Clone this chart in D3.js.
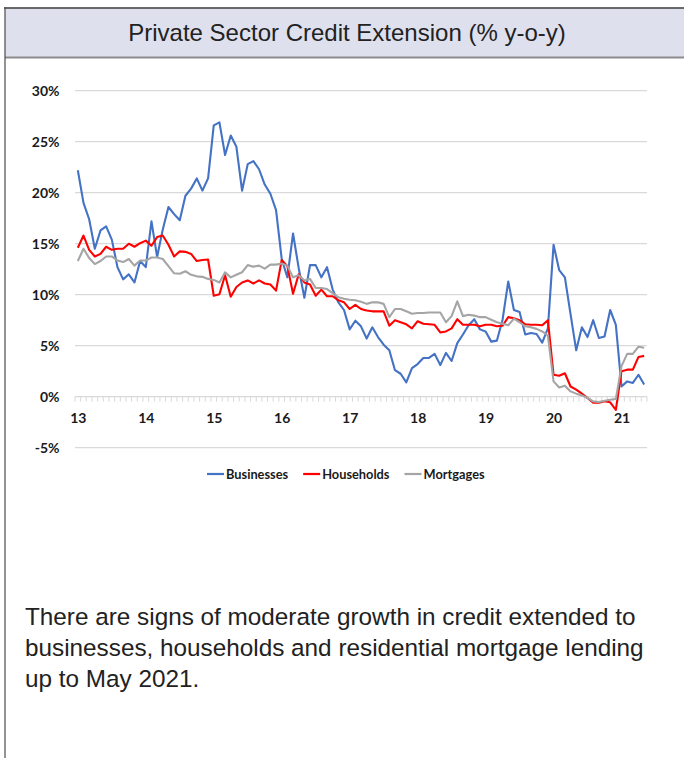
<!DOCTYPE html>
<html>
<head>
<meta charset="utf-8">
<script src="https://cdn.jsdelivr.net/npm/d3@7"></script>
<style>
  html, body { margin: 0; padding: 0; background: #fff; }
  svg { display: block; }
</style>
</head>
<body>
<svg id="chart" width="684" height="758"></svg>
<script>
// Monthly year-on-year growth, Jan 2013 to May 2021
const yearLabels = ["13", "14", "15", "16", "17", "18", "19", "20", "21"];
const yTicks = [-5, 0, 5, 10, 15, 20, 25, 30];

const businesses = [
  22.2, 19.0, 17.4, 14.5, 16.3, 16.7, 15.4, 12.7, 11.5, 12.0, 11.2, 13.3,
  12.7, 17.2, 13.7, 16.4, 18.6, 17.9, 17.3, 19.7, 20.4, 21.4, 20.2, 21.4,
  26.6, 26.9, 23.7, 25.6, 24.5, 20.2, 22.8, 23.1, 22.3, 20.8, 19.9, 18.3,
  13.5, 11.7, 16.0, 12.6, 9.7, 12.9, 12.9, 11.7, 12.7, 10.5, 9.25, 8.5,
  6.6, 7.45, 6.9, 5.7, 6.8, 5.85, 5.1, 4.55, 2.6, 2.25, 1.4, 2.8,
  3.2, 3.8, 3.8, 4.2, 3.1, 4.3, 3.5, 5.25, 6.1, 7.0, 7.6, 6.6,
  6.4, 5.4, 5.5, 7.55, 11.3, 8.5, 8.3, 6.1, 6.25, 6.15, 5.3, 6.7,
  14.9, 12.4, 11.7, 8.1, 4.55, 6.8, 5.85, 7.5, 5.75, 5.9, 8.5, 7.05,
  1.0, 1.5, 1.35, 2.15, 1.2
];

const households = [
  14.6, 15.8, 14.4, 13.75, 14.0, 14.7, 14.4, 14.5, 14.5, 15.0, 14.7, 15.05,
  15.3, 14.8, 15.65, 15.8, 14.9, 13.75, 14.25, 14.2, 14.0, 13.3, 13.4, 13.45,
  9.9, 10.05, 11.9, 9.8, 10.75, 11.2, 11.4, 11.1, 11.4, 11.1, 11.0, 10.4,
  13.4, 12.8, 10.1, 12.0, 11.2, 11.0, 9.9, 10.5, 9.85, 9.85, 9.45, 9.25,
  8.6, 9.0, 8.6, 8.45, 8.37, 8.37, 8.37, 6.96, 7.5, 7.3, 7.1, 6.7,
  7.4, 7.15, 7.1, 7.05, 6.3, 6.4, 6.7, 7.6, 7.05, 7.05, 7.05, 6.9,
  7.05, 7.05, 6.9, 6.96, 7.8, 7.7, 7.5, 7.1, 7.05, 7.05, 7.0, 7.5,
  2.15, 2.05, 2.3, 1.0, 0.7, 0.3, -0.13, -0.6, -0.6, -0.45, -0.55, -1.3,
  2.5, 2.65, 2.65, 3.9, 4.0
];

const mortgages = [
  13.3, 14.5, 13.6, 13.0, 13.3, 13.75, 13.75, 13.35, 13.2, 13.5, 12.85, 13.35,
  13.35, 13.65, 13.65, 13.5, 12.8, 12.1, 12.05, 12.3, 11.95, 11.8, 11.75, 11.55,
  11.45, 11.2, 12.2, 11.7, 11.95, 12.2, 12.9, 12.75, 12.85, 12.55, 12.95, 12.95,
  13.05, 12.85, 11.7, 11.9, 11.4, 11.55, 10.65, 10.65, 10.55, 10.15, 9.75, 9.6,
  9.5, 9.45, 9.3, 9.1, 9.25, 9.25, 9.1, 7.8, 8.6, 8.6, 8.37, 8.14,
  8.2, 8.2, 8.26, 8.26, 8.26, 7.3, 7.9, 9.35, 7.9, 8.04, 7.95, 7.8,
  7.8, 7.55, 7.3, 7.15, 7.0, 7.65, 7.3, 6.9, 6.8, 6.65, 6.4, 6.0,
  1.5, 0.9, 1.08, 0.52, 0.3, 0.13, -0.13, -0.46, -0.52, -0.4, -0.3, -0.23,
  3.0, 4.2, 4.2, 4.9, 4.8
];

const seriesNames = ["Businesses", "Households", "Mortgages"];
const seriesColors = ["#4472C4", "#FF0000", "#A5A5A5"];
const seriesValues = [businesses, households, mortgages];

const titleText = "Private Sector Credit Extension (% y-o-y)";
const noteLines = [
  "There are signs of moderate growth in credit extended to",
  "businesses, households and residential mortgage lending",
  "up to May 2021."
];

const svg = d3.select("#chart");
const W = 684, H = 758;
const labelFont = "Lato, 'Open Sans', sans-serif";
const textFont = "'Liberation Sans', Arial, Helvetica, sans-serif";

// Panel frame and title band
svg.append("rect").attr("x", 5).attr("y", 8.5).attr("width", W).attr("height", 48.5)
  .attr("fill", "#dfe0ee");
svg.append("line").attr("x1", 4).attr("x2", W).attr("y1", 8).attr("y2", 8)
  .attr("stroke", "#3a3a3a").attr("stroke-width", 1.4);
svg.append("line").attr("x1", 5).attr("x2", W).attr("y1", 57.6).attr("y2", 57.6)
  .attr("stroke", "#8c8c8c").attr("stroke-width", 2);
svg.append("line").attr("x1", 5).attr("x2", 5).attr("y1", 7.3).attr("y2", H)
  .attr("stroke", "#4a4a4a").attr("stroke-width", 1.2);

svg.append("text").attr("x", 347).attr("y", 41)
  .attr("text-anchor", "middle")
  .attr("font-family", textFont).attr("font-size", 24)
  .attr("fill", "#222").text(titleText);

// Plot area
const plot = { left: 75, right: 647 };
const n = businesses.length;
const idx = d3.range(n);
const x = d3.scalePoint().domain(idx).range([plot.left, plot.right]).padding(0.5);
const step = x.step();
const y = d3.scaleLinear().domain([-5, 30]).range([447.7, 90.7]);

// Horizontal gridlines
svg.append("g").selectAll("line").data(yTicks).join("line")
  .attr("x1", plot.left).attr("x2", plot.right)
  .attr("y1", d => y(d)).attr("y2", d => y(d))
  .attr("stroke", "#d9d9d9").attr("stroke-width", 1.2);

// Y axis labels
const yAxis = d3.axisLeft(y).tickValues(yTicks).tickSize(0).tickPadding(0)
  .tickFormat(d => d + "%");
svg.append("g").attr("transform", "translate(59.5,0)").call(yAxis)
  .call(g => g.select(".domain").remove())
  .call(g => g.selectAll("text")
    .attr("font-family", labelFont).attr("font-weight", 700)
    .attr("font-size", 14).attr("fill", "#1a1a1a").attr("dy", "0.36em"));

// Category tick marks below the zero line, one per month boundary
const tickPos = d3.range(n + 1).map(i => plot.left + i * step);
svg.append("g").selectAll("line").data(tickPos).join("line")
  .attr("x1", d => d).attr("x2", d => d)
  .attr("y1", y(0)).attr("y2", y(0) + 5)
  .attr("stroke", "#d9d9d9").attr("stroke-width", 1);

// Year labels centred on each January
const xAxis = d3.axisBottom(x)
  .tickValues(yearLabels.map((_, k) => k * 12))
  .tickSize(0).tickPadding(0)
  .tickFormat(d => yearLabels[d / 12]);
svg.append("g").attr("transform", `translate(0,${y(0)})`).call(xAxis)
  .call(g => g.select(".domain").remove())
  .call(g => g.selectAll("text")
    .attr("font-family", labelFont).attr("font-weight", 700)
    .attr("font-size", 14).attr("fill", "#1a1a1a")
    .attr("y", 26).attr("dy", 0));

// Series lines
const line = d3.line().x((d, i) => x(i)).y(d => y(d));
seriesValues.forEach((vals, k) => {
  svg.append("path").datum(vals)
    .attr("d", line)
    .attr("fill", "none")
    .attr("stroke", seriesColors[k])
    .attr("stroke-width", 2.1)
    .attr("stroke-linejoin", "round");
});

// Legend
const legend = svg.append("g");
let lx = 207;
const ly = 474;
seriesNames.forEach((name, k) => {
  legend.append("line").attr("x1", lx).attr("x2", lx + 17)
    .attr("y1", ly).attr("y2", ly)
    .attr("stroke", seriesColors[k]).attr("stroke-width", 2.2);
  const t = legend.append("text").attr("x", lx + 19).attr("y", ly + 4.5)
    .attr("font-family", labelFont).attr("font-weight", 700)
    .attr("font-size", 12.8).attr("fill", "#1a1a1a").text(name);
  lx += 19 + t.node().getComputedTextLength() + 15;
});

// Commentary
svg.append("g").selectAll("text").data(noteLines).join("text")
  .attr("x", 25).attr("y", (d, i) => 625 + i * 31)
  .attr("font-family", textFont).attr("font-size", 24.3)
  .attr("fill", "#222").text(d => d);
</script>
</body>
</html>
